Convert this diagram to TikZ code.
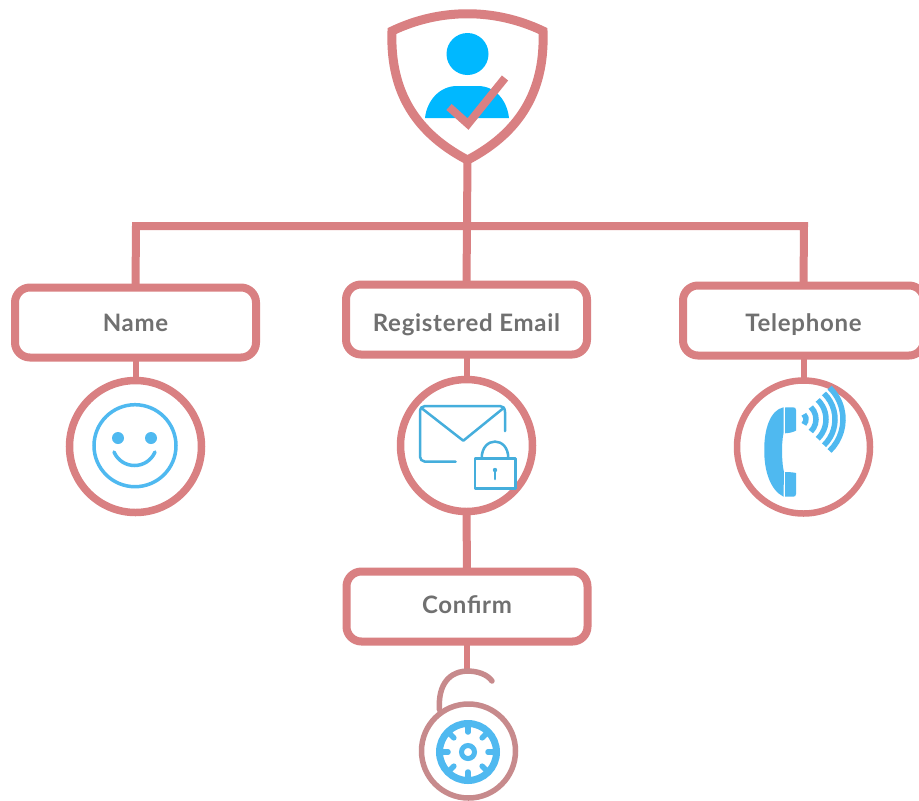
\documentclass[tikz,border=0pt]{standalone}
\usepackage{fontspec}
\setmainfont{Lato}
\definecolor{rosy}{HTML}{D98082}
\definecolor{rosydim}{HTML}{C78A8C}
\definecolor{person}{HTML}{00B8FF}
\definecolor{sky}{HTML}{4FB9F0}
\definecolor{mailblue}{HTML}{45AEDC}
\definecolor{label}{HTML}{707070}
\tikzset{
  labelbox/.style={draw=rosy,line width=8pt,fill=white,rounded corners=15pt,minimum width=241pt,minimum height=70pt,inner sep=0pt,outer sep=0pt,text=label,text height=16pt,text depth=0pt,font=\bfseries\fontsize{24}{26}\selectfont\addfontfeature{LetterSpace=3}},
  iconring/.style={circle,draw=rosy,line width=7.5pt,fill=white,minimum size=132pt,inner sep=0pt,outer sep=0pt},
  wire/.style={draw=rosy,line width=8pt},
  thinwire/.style={draw=rosy,line width=6pt},
  mailline/.style={draw=mailblue,line width=2.5pt,line cap=round,line join=round},
  wave/.style={draw=sky,line width=5.5pt}
}
\begin{document}
\begin{tikzpicture}[x=1pt,y=-1pt]
\useasboundingbox (0,0) rectangle (919,801);
\fill[white] (0,0) rectangle (919,801);
\clip (0,0) rectangle (919,801);
% junctions
\coordinate (tip) at (467.5,160);
\coordinate (busL) at (136,226);
\coordinate (busR) at (804,226);
\coordinate (lockTop) at (467,672);
% nodes
\node[labelbox] (name) at (135.5,322.5) {\raisebox{-0.5pt}{Name}};
\node[labelbox] (email) at (466.5,319.5) {\raisebox{-3.5pt}{Registered Email}};
\node[labelbox] (tel) at (803.5,320.5) {\raisebox{-2.5pt}{Telephone}};
\node[labelbox] (confirm) at (467,606.5) {\raisebox{1.5pt}{Confirm}};
\node[iconring] (ringN) at (135.5,446.5) {};
\node[iconring] (ringE) at (466.5,445.5) {};
\node[iconring,line width=6.5pt,minimum size=133pt] (ringT) at (803.5,447) {};
% connectors
\draw[wire] (tip) -- (email.north);
\draw[wire,line join=miter] (name.north) -- (busL) -- (busR) -- (tel.north);
\draw[thinwire] (name.south) -- (ringN.north);
\draw[thinwire] (email.south) -- (ringE.north);
\draw[thinwire] (tel.south) -- (ringT.north);
\draw[wire] (ringE.south) -- (confirm.north);
\draw[thinwire] (confirm.south) -- (lockTop);
% shield
\draw[draw=rosy,line width=9pt,line join=miter,fill=white]
  (392,31) .. controls (440,8) and (495,8) .. (543,31)
  .. controls (545,85) and (525,130) .. (467.5,160)
  .. controls (410,130) and (390,85) .. (392,31) -- cycle;
\fill[person] (467.5,54) circle[radius=21pt];
\fill[person] (425,118) .. controls (427,100) and (440,86) .. (457,86) -- (478,86)
  .. controls (495,86) and (507,100) .. (509,118) -- cycle;
\draw[rosy,line width=8pt,line join=miter] (449,107) -- (468,124) -- (505,78);
% smile
\draw[sky,line width=3.5pt] (135,445.7) circle[radius=41pt];
\fill[sky] (118,438) circle[radius=6pt];
\fill[sky] (151,438) circle[radius=6pt];
\draw[sky,line width=3.5pt,line cap=round] (114,452) .. controls (122,470) and (147,470) .. (155,452);
% envelope
\draw[mailline] (455.7,461.7) -- (425,461.7) .. controls (422,461.7) and (420,459) .. (420,456.7)
  -- (420,412) .. controls (420,408) and (422,406) .. (425,406) -- (500,406)
  .. controls (503,406) and (505,408) .. (505,412) -- (505,431);
\draw[mailline] (422,408.5) -- (463.3,440.7) -- (503,408.5);
\draw[mailline,fill=white,line cap=butt] (475,458.3) rectangle (515.7,488.3);
\draw[mailline] (481.7,458.3) .. controls (481.7,436) and (508.3,436) .. (508.3,458.3);
\fill[mailblue] (495,470) circle[radius=2.2pt];
\draw[mailline] (495,470) -- (495,479);
% phone
\fill[sky] (783.5,407.3) .. controls (770,410) and (764,430) .. (764.3,450)
  .. controls (764,470) and (770,490) .. (783.5,496.7)
  -- (784,472) .. controls (782,465) and (781,445) .. (783.5,433.3) -- cycle;
\fill[sky] (785,407.5) -- (793,407.3) .. controls (795,407.3) and (796,408) .. (796,410) -- (796,430.5)
  .. controls (794,432) and (790,433) .. (785,433.3) -- cycle;
\fill[sky] (785,472) .. controls (790,472) and (794,472.5) .. (796,473) -- (796,494)
  .. controls (796,496) and (795,496.7) .. (793,496.7) -- (785,496.7) -- cycle;
\coordinate (waves) at (799,419.3);
\foreach \r in {7,17,27,36,44}
  \draw[wave] ([shift={(-46:\r pt)}]waves) arc[start angle=-46,end angle=46,radius=\r pt];
% lock
\draw[draw=rosydim,line width=5.5pt,line cap=round] (439.5,710) .. controls (438,690) and (445,672) .. (467,671)
  .. controls (477,671) and (487,674) .. (492,681);
\draw[draw=rosydim,line width=5.5pt,fill=white] (468.5,751) circle[radius=47pt];
\draw[draw=sky,line width=7pt] (468,752) circle[radius=28.5pt];
\draw[draw=sky,line width=5pt] (468,752) circle[radius=6.5pt];
\foreach \a in {0,45,...,315}
  \draw[sky,line width=5.5pt,line cap=round] ([shift={(\a:28pt)}]468,752) -- ([shift={(\a:20pt)}]468,752);
\end{tikzpicture}
\end{document}
